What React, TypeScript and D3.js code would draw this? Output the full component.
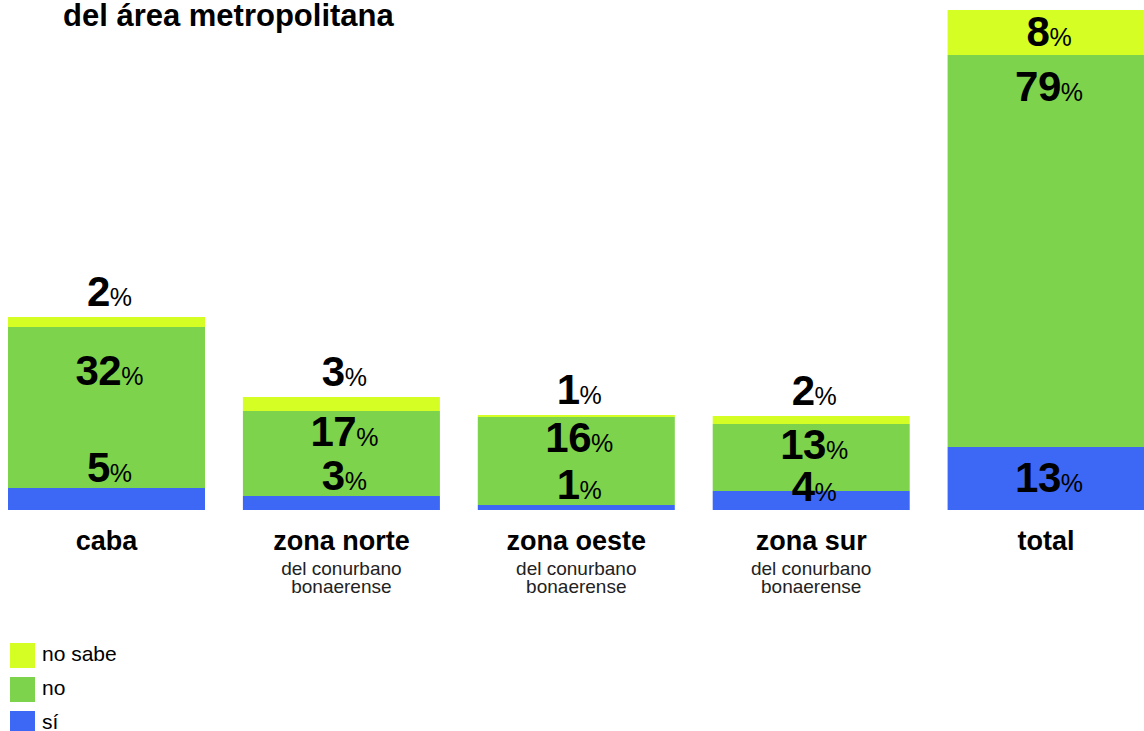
import React from 'react';
import * as d3 from 'd3';

// values (percent of respondents)
const categories = ['caba', 'zona norte', 'zona oeste', 'zona sur', 'total'];
const subtitles = ['', 'del conurbano|bonaerense', 'del conurbano|bonaerense', 'del conurbano|bonaerense', ''];
const siValues = [4.4, 2.8, 1, 3.8, 12.6];
const noValues = [32.2, 17, 17.6, 13.4, 78.4];
const noSabeValues = [2, 2.8, 0.4, 1.6, 9];
// printed labels
const siLabels = ['5', '3', '1', '4', '13'];
const noLabels = ['32', '17', '16', '13', '79'];
const noSabeLabels = ['2', '3', '1', '2', '8'];

const seriesKeys = ['si', 'no', 'noSabe'];
const seriesColors: Record<string, string> = { si: '#3d68f5', no: '#7dd34b', noSabe: '#d4fe24' };
const legendItems = [
  { key: 'noSabe', label: 'no sabe' },
  { key: 'no', label: 'no' },
  { key: 'si', label: 'sí' },
];

const W = 1144;
const H = 731;
const FONT = '"Liberation Sans", Arial, Helvetica, sans-serif';

const App: React.FC = () => {
  const rows = categories.map((c, i) => ({
    cat: c,
    si: siValues[i],
    no: noValues[i],
    noSabe: noSabeValues[i],
  }));

  const stacked = d3.stack<any>().keys(seriesKeys)(rows);

  const x = d3.scaleBand().domain(categories).range([8, 1144.6]).paddingInner(0.1613).paddingOuter(0);
  const y = d3.scaleLinear().domain([0, 100]).range([510, 10]);

  const pct = (num: string, key: string, cx: number, base: number) => (
    <text key={key} x={cx + 3} y={base} textAnchor="middle" fontFamily={FONT} fill="#000">
      <tspan fontSize={42} fontWeight="bold" letterSpacing={-0.5}>{num}</tspan>
      <tspan fontSize={25}>%</tspan>
    </text>
  );

  const labels: React.ReactNode[] = [];
  categories.forEach((c, i) => {
    const cx = x(c)! + x.bandwidth() / 2;
    const [s0, s1] = stacked[0][i];
    const [n0, n1] = stacked[1][i];
    const [k0, k1] = stacked[2][i];

    // "no" label
    const noTop = y(n1);
    const noH = y(n0) - y(n1);
    const noBase = noTop + Math.max(35, Math.min(noH * 0.35, 46)) + (noH > 150 && noH < 200 ? 12 : 0);
    labels.push(pct(noLabels[i], `no-${i}`, cx, noBase));

    // "sí" label
    const siTop = y(s1);
    const siH = y(s0) - y(s1);
    const siBase = siH > 40 ? (siTop + y(s0)) / 2 + 13 : Math.max(siTop - 6, noBase + 42);
    labels.push(pct(siLabels[i], `si-${i}`, cx, siBase));

    // "no sabe" label
    const kTop = y(k1);
    const kH = y(k0) - y(k1);
    const kBase = kH > 30 ? (kTop + y(k0)) / 2 + 13 : kTop - 11;
    labels.push(pct(noSabeLabels[i], `ns-${i}`, cx, kBase));
  });

  return (
    <svg width={W} height={H} style={{ position: 'absolute', left: 0, top: 0, background: '#fff' }}>
      <text x={63} y={26} fontFamily={FONT} fontSize={31} fontWeight="bold" fill="#000">
        del área metropolitana
      </text>

      {stacked.map((layer) => (
        <g key={layer.key} fill={seriesColors[layer.key]}>
          {layer.map((d, i) => (
            <rect
              key={i}
              x={x(categories[i])}
              y={y(d[1])}
              width={x.bandwidth()}
              height={Math.max(0, y(d[0]) - y(d[1]))}
            />
          ))}
        </g>
      ))}

      {labels}

      {categories.map((c, i) => {
        const cx = x(c)! + x.bandwidth() / 2;
        const sub = subtitles[i] ? subtitles[i].split('|') : [];
        return (
          <g key={c} fontFamily={FONT} textAnchor="middle" fill="#000">
            <text x={cx} y={550} fontSize={27} fontWeight="bold">{c}</text>
            {sub.map((s, j) => (
              <text key={j} x={cx} y={575 + j * 18} fontSize={19} fill="#222">{s}</text>
            ))}
          </g>
        );
      })}

      {legendItems.map((item, i) => (
        <g key={item.key} transform={`translate(10, ${643 + i * 34})`}>
          <rect width={25} height={25} fill={seriesColors[item.key]} />
          <text x={32} y={18} fontFamily={FONT} fontSize={21} fill="#000">{item.label}</text>
        </g>
      ))}
    </svg>
  );
};

export default App;
